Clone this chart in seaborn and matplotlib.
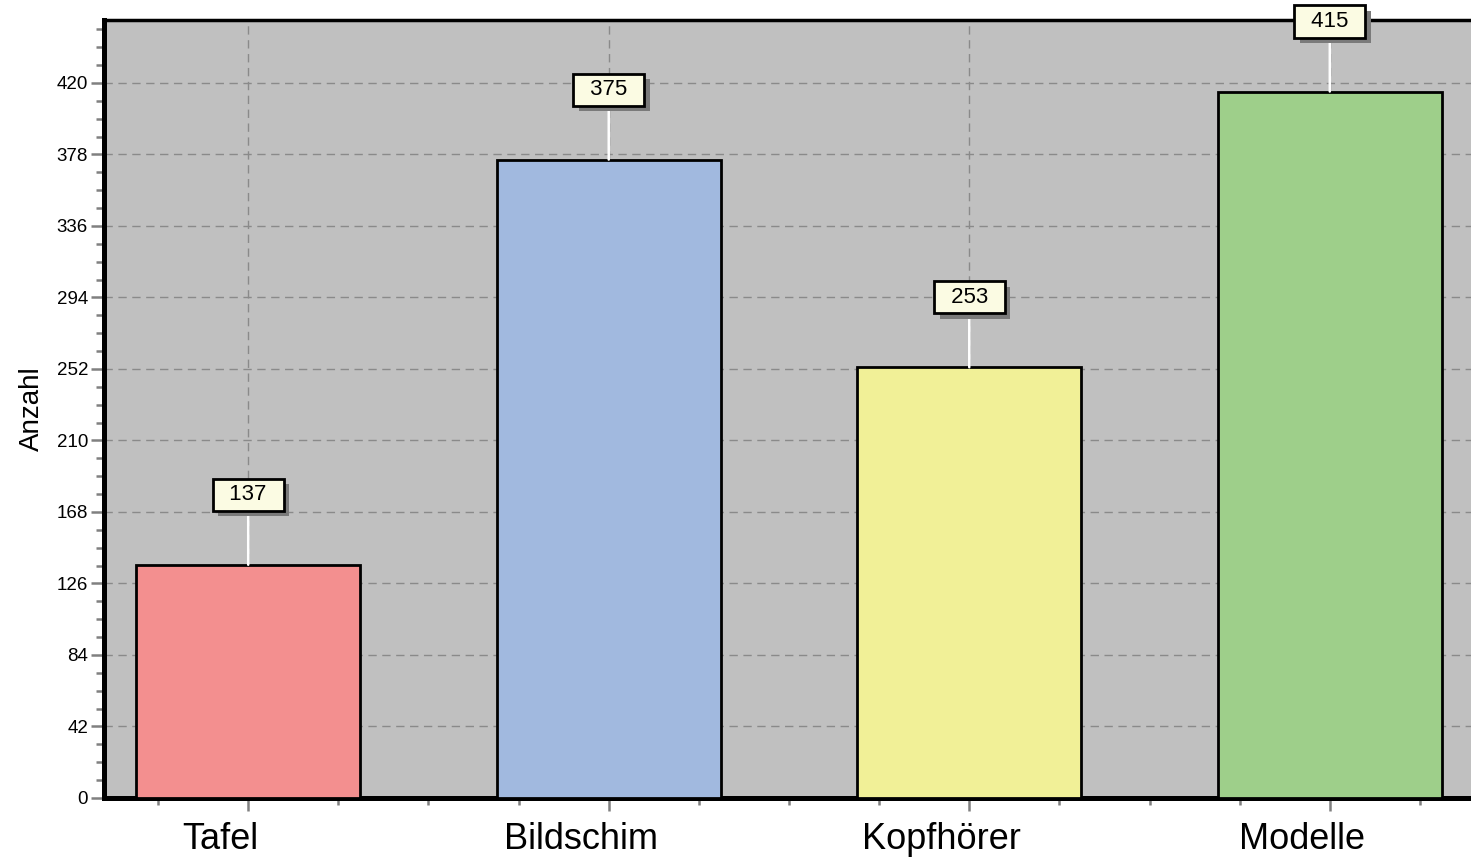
import matplotlib
matplotlib.use("Agg")
import matplotlib.pyplot as plt
import matplotlib.transforms as mtransforms
import matplotlib.patheffects as pe
from matplotlib.ticker import MultipleLocator
import seaborn as sns
import pandas as pd

categories = ["Tafel", "Bildschim", "Kopfhörer", "Modelle"]
values = [137, 375, 253, 415]
colors = ["#F38F8F", "#A1B9DF", "#F1F097", "#9ECF8A"]
y_ticks = [0, 42, 84, 126, 168, 210, 252, 294, 336, 378, 420]
y_label = "Anzahl"

sns.set_theme(style="ticks")
plt.rcParams["font.family"] = ["Liberation Sans", "DejaVu Sans"]
plt.rcParams["text.color"] = "black"
plt.rcParams["axes.labelcolor"] = "black"
plt.rcParams["xtick.labelcolor"] = "black"
plt.rcParams["ytick.labelcolor"] = "black"

df = pd.DataFrame({"cat": categories, "val": values})

fig = plt.figure(figsize=(14.71, 8.59), dpi=100)
ax = fig.add_axes([104 / 1471, 61 / 859, 1370 / 1471, 778 / 859])
ax.set_facecolor("#C0C0C0")

sns.barplot(data=df, x="cat", y="val", hue="cat", palette=colors,
            width=0.62, edgecolor="black", linewidth=2, legend=False,
            ax=ax, zorder=3, saturation=1)

ax.set_xlim(-0.4, 3.4)
ax.set_ylim(0, 457)
ax.set_yticks(y_ticks)
ax.yaxis.set_minor_locator(MultipleLocator(10.5))
ax.xaxis.set_minor_locator(MultipleLocator(0.25))
ax.set_xlabel("")
ax.set_ylabel(y_label, fontsize=20, labelpad=8, color="black")

ax.grid(True, which="major", color="#8A8A8A", linestyle=(0, (6, 4)), linewidth=1.0, zorder=1)
ax.set_axisbelow(True)

ax.tick_params(axis="y", which="major", length=9.5, width=1.8, color="#808080",
               labelsize=13.5, pad=2, labelcolor="black")
ax.tick_params(axis="y", which="minor", length=6, width=1.8, color="#808080")
ax.tick_params(axis="x", which="major", length=9.5, width=1.8, color="#808080",
               labelsize=26, pad=8, labelcolor="black")
ax.tick_params(axis="x", which="minor", length=5, width=1.8, color="#808080")

offset = mtransforms.ScaledTranslation(-28 / 100, 0, fig.dpi_scale_trans)
for lab in ax.get_xticklabels():
    lab.set_transform(lab.get_transform() + offset)

for side in ["left", "bottom"]:
    ax.spines[side].set_linewidth(3.6)
    ax.spines[side].set_color("black")
ax.spines["top"].set_linewidth(2.5)
ax.spines["top"].set_color("black")
ax.spines["right"].set_visible(False)

for i, v in enumerate(values):
    t = ax.annotate("\u2002" + str(v) + "\u2002", xy=(i, v), xytext=(0, 70),
                    textcoords="offset pixels",
                    ha="center", va="center", fontsize=16, zorder=6,
                    color="black", annotation_clip=False,
                    bbox=dict(boxstyle="square,pad=0.25", fc="#FBFBE3", ec="black", lw=2),
                    arrowprops=dict(arrowstyle="-", color="white", lw=1.8,
                                    shrinkA=0, shrinkB=0))
    t.get_bbox_patch().set_path_effects([
        pe.SimplePatchShadow(offset=(4, -4), shadow_rgbFace="#7A7A7A", alpha=1.0),
        pe.Normal()])

fig.savefig("out.png", dpi=100)
